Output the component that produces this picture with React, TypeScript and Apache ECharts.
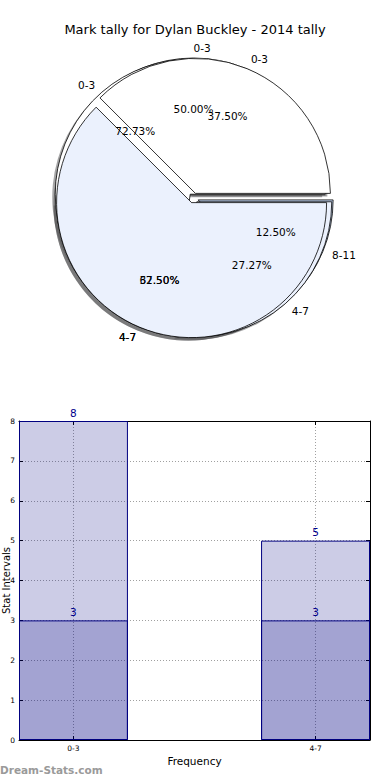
import React, { useEffect, useRef } from 'react';
import * as echarts from 'echarts';

const TITLE = 'Mark tally for Dylan Buckley - 2014 tally';

// Three overlaid pies (drawn bottom to top: A, C, B)
const PIE_A_NAMES = ['0-3', '4-7', '8-11'];
const PIE_A_VALUES = [4, 3, 1];
const PIE_C_NAMES = ['0-3', '4-7'];
const PIE_C_VALUES = [8, 3];
const PIE_B_NAMES = ['0-3', '4-7'];
const PIE_B_VALUES = [3, 5];

// Bar chart
const BAR_CATEGORIES = ['0-3', '4-7'];
const BAR_TOTALS = [8, 5];
const BAR_PART = [3, 3];
const BAR_X_TICKS = [0, 1];

const FONT = 'DejaVu Sans';
const SLICE_COLORS: Record<string, string> = {
  '0-3': '#ffffff',
  '4-7': '#ebf1fd',
  '8-11': '#c6d9f7',
};

const PIE_CENTER = [193.5, 198];
const PIE_R = 135;
const EXPLODE = 5;
const SHADOW_DX = -3;
const SHADOW_DY = 3;

const GRID = { left: 19, top: 421, width: 351, height: 319 };
const X_MIN = -0.225;
const X_MAX = 1.225;
const BAR_UNIT = 0.45;

function makeData(names: string[], values: number[], color?: string) {
  return names.map((n, i) => ({
    name: n,
    value: values[i],
    selected: true,
    itemStyle: { color: color ?? SLICE_COLORS[n] },
  }));
}

function basePie() {
  return {
    type: 'pie',
    radius: [0, PIE_R],
    center: PIE_CENTER,
    startAngle: 0,
    clockwise: false,
    selectedMode: 'multiple',
    selectedOffset: EXPLODE,
    avoidLabelOverlap: false,
    silent: true,
    emphasis: { disabled: true },
    labelLine: { show: false },
    label: { show: false },
    labelLayout: { hideOverlap: false },
  };
}

function shadowSeries(names: string[], values: number[]) {
  return {
    ...basePie(),
    center: [PIE_CENTER[0] + SHADOW_DX, PIE_CENTER[1] + SHADOW_DY],
    z: 1,
    itemStyle: { borderWidth: 0 },
    select: { itemStyle: { borderWidth: 0 } },
    data: makeData(names, values, 'rgba(77,77,80,0.5)'),
  };
}

function wedgeSeries(names: string[], values: number[]) {
  return {
    ...basePie(),
    z: 2,
    itemStyle: { borderColor: '#000', borderWidth: 0.8 },
    select: { itemStyle: { borderColor: '#000', borderWidth: 0.8 } },
    data: makeData(names, values),
  };
}

function nameLabelSeries(names: string[], values: number[]) {
  return {
    ...basePie(),
    z: 5,
    itemStyle: { color: 'transparent', borderWidth: 0 },
    select: { itemStyle: { color: 'transparent', borderWidth: 0 } },
    label: {
      show: true,
      position: 'outside',
      formatter: '{b}',
      fontSize: 10.5,
      fontFamily: FONT,
      color: '#000',
      distanceToLabelLine: 0,
    },
    labelLine: { show: false, length: 10, length2: 0 },
    data: makeData(names, values, 'transparent'),
  };
}

function pctLabelSeries(names: string[], values: number[]) {
  return {
    ...basePie(),
    radius: [0, PIE_R * 1.2],
    z: 5,
    itemStyle: { color: 'transparent', borderWidth: 0 },
    select: { itemStyle: { color: 'transparent', borderWidth: 0 } },
    label: {
      show: true,
      position: 'inside',
      formatter: (p: any) => p.percent.toFixed(2) + '%',
      fontSize: 10.5,
      fontFamily: FONT,
      color: '#000',
    },
    data: makeData(names, values, 'transparent'),
  };
}

export default function App() {
  const ref = useRef<HTMLDivElement>(null);
  useEffect(() => {
    if (!ref.current) return;
    const chart = echarts.init(ref.current, undefined, { renderer: 'svg' });
    const barWidthPx = (GRID.width * BAR_UNIT) / (X_MAX - X_MIN);
    const pies: [string[], number[]][] = [
      [PIE_A_NAMES, PIE_A_VALUES],
      [PIE_C_NAMES, PIE_C_VALUES],
      [PIE_B_NAMES, PIE_B_VALUES],
    ];
    const gridLine = { show: true, lineStyle: { color: '#a0a0a0', type: [1, 2], width: 1 } };
    const barLabel = {
      show: true,
      position: 'top',
      distance: 3,
      color: '#00008b',
      fontSize: 10.5,
      fontFamily: FONT,
      formatter: (p: any) => String(p.value[1]),
    };
    const option: any = {
      animation: false,
      backgroundColor: '#fff',
      title: {
        text: TITLE,
        left: 'center',
        top: 23,
        padding: 0,
        textStyle: { fontSize: 13, fontWeight: 'normal', color: '#000', fontFamily: FONT },
      },
      grid: { ...GRID, outerBoundsMode: 'none', containLabel: false },
      xAxis: [
        {
          type: 'value',
          min: X_MIN,
          max: X_MAX,
          position: 'bottom',
          axisLine: { show: true, onZero: false, lineStyle: { color: '#000', width: 1 } },
          axisTick: { show: true, inside: true, length: 4, customValues: BAR_X_TICKS, lineStyle: { color: '#000' } },
          axisLabel: {
            customValues: BAR_X_TICKS,
            formatter: (v: number) => BAR_CATEGORIES[Math.round(v)] ?? '',
            fontSize: 7.5,
            color: '#000',
            margin: 4,
            fontFamily: FONT,
          },
          splitLine: gridLine,
          name: 'Frequency',
          nameLocation: 'middle',
          nameGap: 15,
          nameMoveOverlap: false,
          nameTextStyle: { fontSize: 10.5, color: '#000', fontFamily: FONT },
        },
        {
          type: 'value',
          min: X_MIN,
          max: X_MAX,
          position: 'top',
          axisLine: { show: true, onZero: false, lineStyle: { color: '#000', width: 1 } },
          axisTick: { show: true, inside: true, length: 4, customValues: BAR_X_TICKS, lineStyle: { color: '#000' } },
          axisLabel: { show: false },
          splitLine: { show: false },
        },
      ],
      yAxis: [
        {
          type: 'value',
          min: 0,
          max: 8,
          interval: 1,
          position: 'left',
          axisLine: { show: true, onZero: false, lineStyle: { color: '#000', width: 1 } },
          axisTick: { show: true, inside: true, length: 4, lineStyle: { color: '#000' } },
          axisLabel: { fontSize: 7.5, color: '#000', margin: 4, fontFamily: FONT },
          splitLine: gridLine,
          name: 'Stat Intervals',
          nameLocation: 'middle',
          nameGap: 8,
          nameMoveOverlap: false,
          nameTextStyle: { fontSize: 10, color: '#000', fontFamily: FONT },
        },
        {
          type: 'value',
          min: 0,
          max: 8,
          interval: 1,
          position: 'right',
          axisLine: { show: true, onZero: false, lineStyle: { color: '#000', width: 1 } },
          axisTick: { show: true, inside: true, length: 4, lineStyle: { color: '#000' } },
          axisLabel: { show: false },
          splitLine: { show: false },
        },
      ],
      graphic: [
        {
          type: 'text',
          left: 0,
          top: 764,
          style: { text: 'Dream-Stats.com', fontSize: 10.5, fontWeight: 'bold', fill: '#9a9a9a', fontFamily: FONT },
        },
      ],
      series: [
        ...pies.map(([n, v]) => shadowSeries(n, v)),
        ...pies.map(([n, v]) => wedgeSeries(n, v)),
        ...pies.map(([n, v]) => nameLabelSeries(n, v)),
        ...pies.map(([n, v]) => pctLabelSeries(n, v)),
        {
          type: 'bar',
          xAxisIndex: 0,
          yAxisIndex: 0,
          barWidth: barWidthPx,
          barGap: '-100%',
          data: BAR_TOTALS.map((v, i) => [i, v]),
          itemStyle: { color: 'rgba(0,0,128,0.2)', borderColor: '#000080', borderWidth: 1 },
          label: barLabel,
          labelLayout: { hideOverlap: false },
          emphasis: { disabled: true },
          z: 3,
        },
        {
          type: 'bar',
          xAxisIndex: 0,
          yAxisIndex: 0,
          barWidth: barWidthPx,
          barGap: '-100%',
          data: BAR_PART.map((v, i) => [i, v]),
          itemStyle: { color: 'rgba(0,0,128,0.2)', borderColor: '#000080', borderWidth: 1 },
          label: barLabel,
          labelLayout: { hideOverlap: false },
          emphasis: { disabled: true },
          z: 3,
        },
      ],
    };
    chart.setOption(option);
    return () => chart.dispose();
  }, []);
  return (
    <div
      ref={ref}
      style={{ position: 'fixed', left: 0, top: 0, width: 390, height: 780, background: '#fff' }}
    />
  );
}
